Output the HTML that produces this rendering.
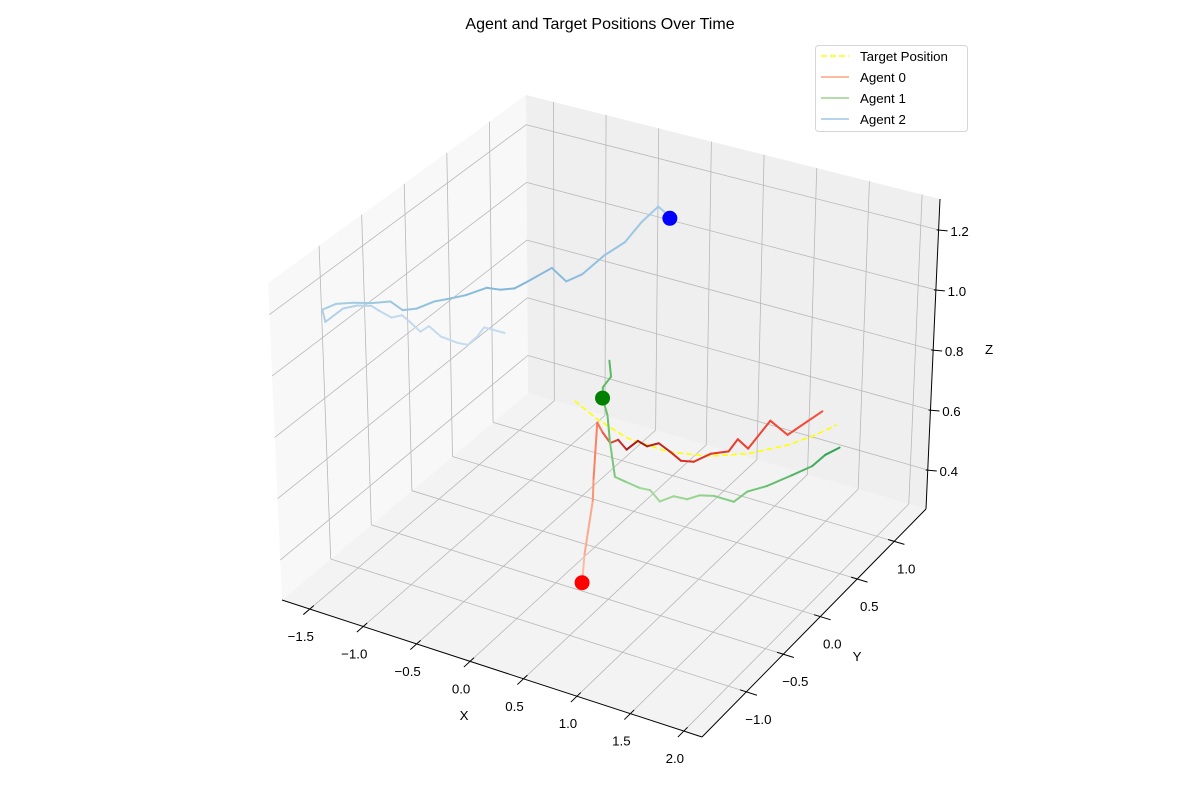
<!DOCTYPE html>
<html><head><meta charset="utf-8"><style>
html,body{margin:0;padding:0;background:#fff;}
svg{display:block;font-family:"Liberation Sans","DejaVu Sans",sans-serif;}
</style></head><body>
<svg id="chart" width="1200" height="800" viewBox="0 0 1200 800">
<text x="600" y="29" text-anchor="middle" font-size="16" fill="#000">Agent and Target Positions Over Time</text>
<g id="panes"></g>
<g id="grid"></g>
<g id="axes"></g>
<g id="series"></g>
<text x="464" y="720" text-anchor="middle" font-size="13.3">X</text>
<text x="857" y="661" text-anchor="middle" font-size="13.3">Y</text>
<text x="989" y="354" text-anchor="middle" font-size="13.3">Z</text>
<g>
<rect x="815.5" y="45.5" width="152" height="86" rx="3" fill="#fff" fill-opacity="0.8" stroke="#d6d6d6"/>
<g><line x1="821" y1="56" x2="849" y2="56" stroke="#ffff00" stroke-width="1.6" stroke-dasharray="6,3"/><text x="860" y="61" font-size="13.3">Target Position</text></g>
<g><line x1="821" y1="77" x2="849" y2="77" stroke="#fcbba1" stroke-width="2"/><text x="860" y="82" font-size="13.3">Agent 0</text></g>
<g><line x1="821" y1="98" x2="849" y2="98" stroke="#b1dea9" stroke-width="2"/><text x="860" y="103" font-size="13.3">Agent 1</text></g>
<g><line x1="821" y1="119" x2="849" y2="119" stroke="#b7d4ea" stroke-width="2"/><text x="860" y="124" font-size="13.3">Agent 2</text></g>
</g>
</svg>
<script>
// ---- data ----
const xTicks = [-1.5, -1.0, -0.5, 0.0, 0.5, 1.0, 1.5, 2.0];
const xTickLabels = ["\u22121.5","\u22121.0","\u22120.5","0.0","0.5","1.0","1.5","2.0"];
const yTicks = [-1.0, -0.5, 0.0, 0.5, 1.0];
const yTickLabels = ["\u22121.0","\u22120.5","0.0","0.5","1.0"];
const zTicks = [0.4, 0.6, 0.8, 1.0, 1.2];
const zTickLabels = ["0.4","0.6","0.8","1.0","1.2"];

const targetX = [-0.65,-0.33,0.04,0.44,0.77,1.04,1.26,1.38,1.47];
const targetY = [0.60,0.47,0.36,0.34,0.42,0.57,0.78,0.96,1.15];
const targetZ = [0.55,0.55,0.55,0.55,0.55,0.55,0.55,0.55,0.55];

const agent0X = [0.98,0.78,0.42,0.25,-0.18,-0.06,0.08,0.11,0.25,0.26,0.37,0.43,0.59,0.73,0.83,0.89,1.00,0.97,1.12,1.06,1.30,1.34,1.37];
const agent0Y = [-1.50,-1.19,-0.59,-0.35,0.27,0.18,0.09,0.15,0.07,0.20,0.17,0.24,0.18,0.12,0.15,0.29,0.37,0.53,0.46,0.83,0.73,0.94,1.09];
const agent0Z = [0.6,0.6,0.6,0.6,0.6,0.6,0.6,0.6,0.6,0.6,0.6,0.6,0.6,0.6,0.6,0.6,0.6,0.6,0.6,0.6,0.6,0.6,0.6];

const agent1X = [-0.99,-0.84,-0.81,-0.72,-0.54,-0.31,0.02,0.15,0.29,0.38,0.54,0.60,0.72,0.78,0.89,1.08,1.10,1.20,1.30,1.38,1.39,1.44];
const agent1Y = [1.47,1.30,1.16,1.04,0.87,0.60,0.23,0.21,0.19,0.20,0.11,0.21,0.22,0.30,0.34,0.34,0.49,0.61,0.80,0.96,1.12,1.24];
const agent1Z = [0.45,0.45,0.45,0.45,0.45,0.45,0.45,0.45,0.45,0.45,0.45,0.45,0.45,0.45,0.45,0.45,0.45,0.45,0.45,0.45,0.45,0.45];

const agent2X = [-0.56,-0.75,-0.72,-0.71,-0.80,-0.97,-1.14,-1.15,-1.31,-1.42,-1.47,-1.62,-1.71,-1.81,-1.88,-1.88,-2.01,-1.97,-1.86,-1.74,-1.62,-1.46,-1.38,-1.32,-1.25,-1.16,-1.08,-0.97,-0.88,-0.85,-0.80,-0.58,-0.53,-0.54,-0.51,-0.57,-0.59,-0.48,-0.40];
const agent2Y = [-0.37,-0.37,-0.49,-0.62,-0.63,-0.61,-0.53,-0.62,-0.54,-0.49,-0.55,-0.51,-0.48,-0.52,-0.60,-0.81,-0.68,-0.57,-0.50,-0.45,-0.37,-0.43,-0.37,-0.23,-0.16,-0.06,0.09,0.11,0.17,0.29,0.52,0.41,0.54,0.82,1.04,1.32,1.55,1.50,1.45];
const agent2Z = agent2X.map(() => 1.0);

const markerIndex = [0, 3, 38];

// ---- projection (axis functions) ----
const X0=-1.76, X1=2.17, Y0=-1.6, Y1=1.43, Z0=0.27, Z1=1.303;
const BOT = {L:[282,600], F:[702,737], R:[926,509], B:[528,393]};
const TOP = {L:[268,283], F:[706,400], R:[940,199], B:[526,95]};
function bil(c,u,v){
  const a=(1-u)*(1-v), b=u*(1-v), d=u*v, e=(1-u)*v;
  return [a*c.L[0]+b*c.F[0]+d*c.R[0]+e*c.B[0], a*c.L[1]+b*c.F[1]+d*c.R[1]+e*c.B[1]];
}
function proj(x,y,z){
  const u=(x-X0)/(X1-X0), v=(y-Y0)/(Y1-Y0), w=(z-Z0)/(Z1-Z0);
  const p=bil(BOT,u,v), q=bil(TOP,u,v);
  return [p[0]+(q[0]-p[0])*w, p[1]+(q[1]-p[1])*w];
}
const NS="http://www.w3.org/2000/svg";
function mk(tag, attrs, parent){
  const el=document.createElementNS(NS,tag);
  for(const k in attrs) el.setAttribute(k, attrs[k]);
  parent.appendChild(el); return el;
}
function pts(arr){return arr.map(p=>p[0].toFixed(1)+","+p[1].toFixed(1)).join(" ");}

const panes=document.getElementById('panes');
let el;
el=mk('polygon',{points:pts([proj(X0,Y0,Z0),proj(X1,Y0,Z0),proj(X1,Y1,Z0),proj(X0,Y1,Z0)]),fill:'#f3f3f3'},panes);


el=mk('polygon',{points:pts([proj(X0,Y0,Z0),proj(X0,Y1,Z0),proj(X0,Y1,Z1),proj(X0,Y0,Z1)]),fill:'#f8f8f8'},panes);


el=mk('polygon',{points:pts([proj(X0,Y1,Z0),proj(X1,Y1,Z0),proj(X1,Y1,Z1),proj(X0,Y1,Z1)]),fill:'#efefef'},panes);



const grid=document.getElementById('grid');
function gl(a,b,name){
  const l=mk('line',{x1:a[0],y1:a[1],x2:b[0],y2:b[1],stroke:'#b8b8b8','stroke-width':0.8},grid);
  
  
}
xTicks.forEach(x=>{ gl(proj(x,Y0,Z0),proj(x,Y1,Z0),'grid-x-floor'); gl(proj(x,Y1,Z0),proj(x,Y1,Z1),'grid-x-back'); });
yTicks.forEach(y=>{ gl(proj(X0,y,Z0),proj(X1,y,Z0),'grid-y-floor'); gl(proj(X0,y,Z0),proj(X0,y,Z1),'grid-y-left'); });
zTicks.forEach(z=>{ gl(proj(X0,Y0,z),proj(X0,Y1,z),'grid-z-left'); gl(proj(X0,Y1,z),proj(X1,Y1,z),'grid-z-back'); });

const axes=document.getElementById('axes');
function al(a,b,name){
  const l=mk('line',{x1:a[0],y1:a[1],x2:b[0],y2:b[1],stroke:'#000','stroke-width':1},axes);
  
  
}
al(proj(X0,Y0,Z0),proj(X1,Y0,Z0),'x-axis-line');
al(proj(X1,Y0,Z0),proj(X1,Y1,Z0),'y-axis-line');
al(proj(X1,Y1,Z0),proj(X1,Y1,Z1),'z-axis-line');
function tl(x,y,txt,anchor,name){
  const t=mk('text',{x:x,y:y,'font-size':13.3,'text-anchor':anchor,fill:'#000'},axes);
  t.textContent=txt;
  
  
}
xTicks.forEach((x,i)=>{
  const p=proj(x,Y0-0.08,Z0), q=proj(x,Y0+0.05,Z0);
  al(p,q,'x-tick');
  const c=proj(x,Y0,Z0);
  tl(c[0]-9,c[1]+32,xTickLabels[i],'middle','x-tick-label');
});
yTicks.forEach((y,i)=>{
  const p=proj(X1-0.06,y,Z0), q=proj(X1+0.1,y,Z0);
  al(p,q,'y-tick');
  const c=proj(X1,y,Z0);
  tl(c[0]+12,c[1]+32,yTickLabels[i],'middle','y-tick-label');
});
zTicks.forEach((z,i)=>{
  const c=proj(X1,Y1,z);
  al([c[0]-2,c[1]],[c[0]+9,c[1]+1],'z-tick');
  tl(c[0]+21,c[1]+6,zTickLabels[i],'middle','z-tick-label');
});

const series=document.getElementById('series');
function hex(c){return [parseInt(c.slice(1,3),16),parseInt(c.slice(3,5),16),parseInt(c.slice(5,7),16)];}
function colAt(stops,t){
  const s=t*(stops.length-1), i=Math.min(Math.floor(s),stops.length-2), f=s-i;
  const a=hex(stops[i]), b=hex(stops[i+1]);
  return 'rgb('+a.map((v,k)=>Math.round(v+(b[k]-v)*f)).join(',')+')';
}
function drawGradient(X,Y,Z,stops,name,width){
  const g=mk('g',{},series);
  
  
  const P=X.map((x,i)=>proj(x,Y[i],Z[i]));
  for(let i=0;i<P.length-1;i++){
    const s=mk('line',{x1:P[i][0],y1:P[i][1],x2:P[i+1][0],y2:P[i+1][1],stroke:colAt(stops,i/(P.length-2)),'stroke-width':width,'stroke-linecap':'round'},g);
    
    
  }
  return P;
}
{
  const P=targetX.map((x,i)=>proj(x,targetY[i],targetZ[i]));
  const l=mk('polyline',{points:pts(P),fill:'none',stroke:'#ffff00','stroke-width':1.6,'stroke-dasharray':'6,3'},series);
  
  
}
const P0=drawGradient(agent0X,agent0Y,agent0Z,['#fcbba1','#fb6a4a','#a50f15','#d7301f','#ef3b2c','#f4503a'],'agent-0-line',2);
const P1=drawGradient(agent1X,agent1Y,agent1Z,['#5cb860','#6cc070','#a1d99b','#9bd595','#74c476','#31a354'],'agent-1-line',2);
const P2=drawGradient(agent2X,agent2Y,agent2Z,['#c6dbef','#c2d9ef','#9ecae1','#7fb5da','#a9cfe8'],'agent-2-line',2);
function dot(p,color,name){
  const c=mk('circle',{cx:p[0],cy:p[1],r:7.5,fill:color},series);
  
  
}
dot(P0[markerIndex[0]],'#ff0000','agent-0-marker');
dot(P1[markerIndex[1]],'#008000','agent-1-marker');
dot(P2[markerIndex[2]],'#0000ff','agent-2-marker');
</script>
</body></html>
